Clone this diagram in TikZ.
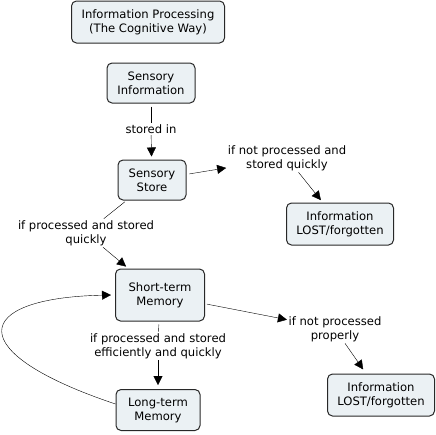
\documentclass[tikz,border=0pt]{standalone}
\usepackage{fontspec}
\setmainfont{DejaVu Sans}
\usetikzlibrary{arrows.meta}
\definecolor{boxfill}{RGB}{235,241,244}
\definecolor{boxline}{RGB}{40,40,40}

\begin{document}
\begin{tikzpicture}[x=1pt, y=-1pt, >={Triangle[length=9pt,width=9pt]},
    concept/.style={draw=boxline, line width=1pt, rounded corners=5pt, fill=boxfill, align=center, inner sep=0pt},
    linkword/.style={align=center, inner sep=1.5pt},
    every node/.style={font=\fontsize{11.6}{14}\selectfont}]
    \useasboundingbox (0,0) rectangle (436,434);

    % Concepts
    \node[concept, minimum width=153pt, minimum height=42pt] (title) at (148,22) {Information Processing\\(The Cognitive Way)};
    \node[concept, minimum width=88pt, minimum height=40pt] (sensinfo) at (151,83) {Sensory\\Information};
    \node[concept, minimum width=68pt, minimum height=40pt] (sensstore) at (152,180) {Sensory\\Store};
    \node[concept, minimum width=107pt, minimum height=42pt] (lostA) at (340,224) {Information\\LOST/forgotten};
    \node[concept, minimum width=89pt, minimum height=52pt] (shortmem) at (160,295) {Short-term\\Memory};
    \node[concept, minimum width=107pt, minimum height=42pt] (lostB) at (381,395) {Information\\LOST/forgotten};
    \node[concept, minimum width=84pt, minimum height=41pt] (longmem) at (158,410) {Long-term\\Memory};

    % Linking words
    \node[linkword] (storedin) at (151,129) {stored in};
    \node[linkword] (notquick) at (287,158) {if not processed and\\stored quickly};
    \node[linkword] (quick) at (86,233) {if processed and stored\\quickly};
    \node[linkword] (notproper) at (335,329) {if not processed\\properly};
    \node[linkword] (efficient) at (158,346) {if processed and stored\\efficiently and quickly};

    % Connections
    \draw[shorten <=3pt] (sensinfo) -- (storedin);
    \draw[->, shorten >=3pt] (storedin) -- (sensstore);
    \draw[->, shorten <=3pt] (sensstore) -- (notquick);
    \draw[->, shorten >=3pt] (notquick) -- (lostA);
    \draw[shorten <=2pt] (sensstore) -- (quick);
    \draw[->, shorten >=3pt] (quick) -- (shortmem);
    \draw[->, shorten <=2pt] (shortmem) -- (notproper);
    \draw[->, shorten >=5pt] (notproper) -- (lostB);
    \draw[shorten <=3pt] (shortmem) -- (efficient);
    \draw[->, shorten >=4pt] (efficient) -- (longmem);

    % Loop back from long-term memory
    \draw[->] (longmem.west) ++(0,-6) .. controls (-40,352) and (-28,298) .. ([xshift=-4pt]shortmem.west);

\end{tikzpicture}
\end{document}
